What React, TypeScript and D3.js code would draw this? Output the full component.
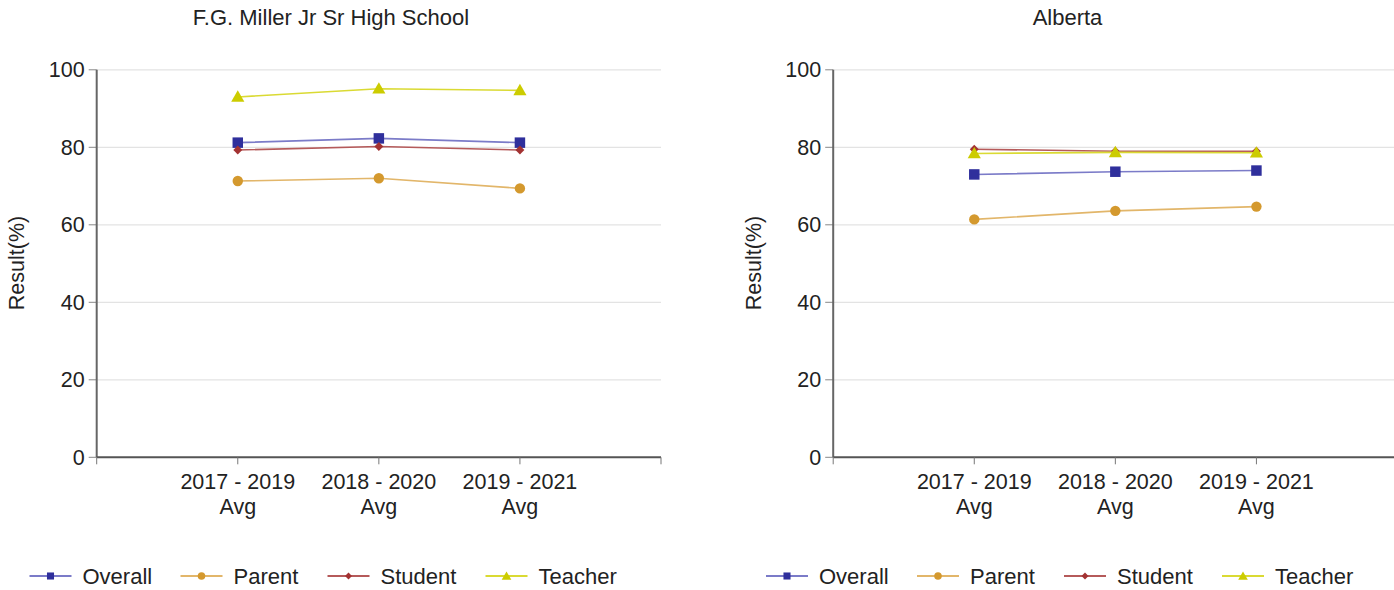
import React from "react";
import * as d3 from "d3";

const categories = ["2017 - 2019 Avg", "2018 - 2020 Avg", "2019 - 2021 Avg"];
const seriesNames = ["Overall", "Parent", "Student", "Teacher"];
const schoolOverall = [81.2, 82.3, 81.2];
const schoolParent = [71.3, 72.0, 69.4];
const schoolStudent = [79.3, 80.2, 79.3];
const schoolTeacher = [93.0, 95.1, 94.7];
const albertaOverall = [73.0, 73.7, 74.0];
const albertaParent = [61.4, 63.6, 64.7];
const albertaStudent = [79.5, 79.0, 79.0];
const albertaTeacher = [78.4, 78.7, 78.6];
const yTicks = [0, 20, 40, 60, 80, 100];
const panelTitles = ["F.G. Miller Jr Sr High School", "Alberta"];

const markerColors = ["#2f2f9c", "#d4992e", "#a33232", "#cccc00"];
const lineColors = ["#7b7bc8", "#e2b66a", "#b55a5a", "#dada33"];
const shapes = [d3.symbolSquare, d3.symbolCircle, d3.symbolSquare, d3.symbolTriangle];
const rotations = [0, 0, 45, 0];
const symSizes = [110, 85, 40, 75];
const legendSizes = [50, 45, 24, 40];

const FONT = "'Liberation Sans', Arial, sans-serif";
const FS = 21.5;
const FS_BIG = 22;

function Panel({ offset, title, data }: { offset: number; title: string; data: number[][] }) {
  const x0 = 96.7 + offset;
  const x1 = 661 + offset;
  const x = d3.scaleLinear().domain([0, categories.length + 1]).range([x0, x1]);
  const y = d3.scaleLinear().domain([0, 100]).range([457.3, 69.8]);
  const xTickVals = d3.range(0, categories.length + 2);
  const legendX = [30, 181, 328, 486];
  const titleX = 331 + offset;
  return (
    <g>
      <text x={titleX} y={25} textAnchor="middle" fontSize={FS_BIG} fill="#222" fontFamily={FONT}>
        {title}
      </text>
      {yTicks.filter((t) => t > 0).map((t) => (
        <line key={"g" + t} x1={x0} x2={x1} y1={y(t)} y2={y(t)} stroke="#e3e3e3" strokeWidth={1.2} />
      ))}
      {yTicks.map((t) => (
        <g key={"yt" + t}>
          <line x1={x0 - 8} x2={x0} y1={y(t)} y2={y(t)} stroke="#888" strokeWidth={1} />
          <text x={x0 - 12} y={y(t) + 7.5} textAnchor="end" fontSize={FS} fill="#222" fontFamily={FONT}>
            {t}
          </text>
        </g>
      ))}
      <line x1={x0} x2={x0} y1={y(100)} y2={y(0)} stroke="#666" strokeWidth={2} />
      <line x1={x0} x2={x1} y1={y(0)} y2={y(0)} stroke="#555" strokeWidth={2} />
      {xTickVals.map((t) => (
        <line key={"xt" + t} x1={x(t)} x2={x(t)} y1={y(0)} y2={y(0) + 7} stroke="#777" strokeWidth={1} />
      ))}
      {categories.map((c, i) => {
        const parts = c.split(" Avg");
        return (
          <text key={c} textAnchor="middle" fontSize={FS} fill="#222" fontFamily={FONT}>
            <tspan x={x(i + 1)} y={489}>{parts[0]}</tspan>
            <tspan x={x(i + 1)} y={514}>Avg</tspan>
          </text>
        );
      })}
      <text
        transform={`translate(${24 + offset},263) rotate(-90)`}
        textAnchor="middle"
        fontSize={FS}
        fill="#222"
        fontFamily={FONT}
      >
        Result(%)
      </text>
      {data.map((vals, s) => {
        const line = d3
          .line<number>()
          .x((_, i) => x(i + 1))
          .y((v) => y(v));
        return (
          <g key={"s" + s}>
            <path d={line(vals) || ""} fill="none" stroke={lineColors[s]} strokeWidth={1.6} />
            {vals.map((v, i) => (
              <path
                key={i}
                d={d3.symbol().type(shapes[s]).size(symSizes[s])() || ""}
                transform={`translate(${x(i + 1)},${y(v) + (s === 3 ? 1 : 0)}) rotate(${rotations[s]})`}
                fill={markerColors[s]}
              />
            ))}
          </g>
        );
      })}
      {seriesNames.map((n, s) => {
        const lx = legendX[s] + offset - 0.5;
        return (
          <g key={"l" + n}>
            <line x1={lx} x2={lx + 42} y1={576} y2={576} stroke={lineColors[s]} strokeWidth={2} />
            <path
              d={d3.symbol().type(shapes[s]).size(legendSizes[s])() || ""}
              transform={`translate(${lx + 21},${576 + (s === 3 ? 1 : 0)}) rotate(${rotations[s]})`}
              fill={markerColors[s]}
            />
            <text x={lx + 53} y={583.5} fontSize={FS_BIG} fill="#222" fontFamily={FONT}>
              {n}
            </text>
          </g>
        );
      })}
    </g>
  );
}

export default function App() {
  const school = [schoolOverall, schoolParent, schoolStudent, schoolTeacher];
  const alberta = [albertaOverall, albertaParent, albertaStudent, albertaTeacher];
  return (
    <svg
      width={1394}
      height={590}
      style={{ position: "absolute", left: 0, top: 0, background: "#fff" }}
    >
      <rect width={1394} height={590} fill="#fff" />
      <Panel offset={0} title={panelTitles[0]} data={school} />
      <Panel offset={736.5} title={panelTitles[1]} data={alberta} />
    </svg>
  );
}
